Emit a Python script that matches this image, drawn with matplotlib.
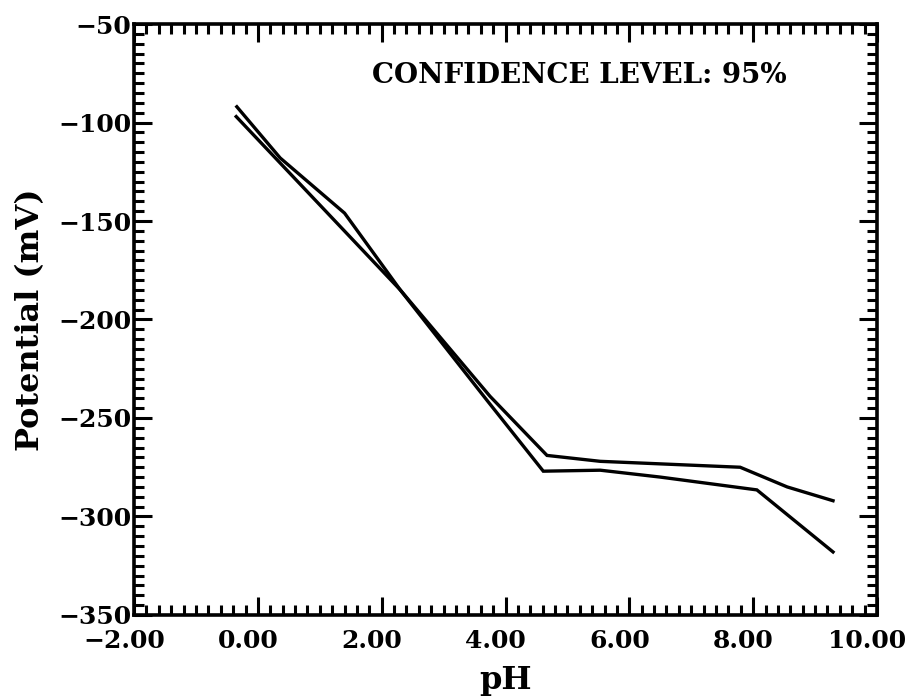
import matplotlib

matplotlib.use("Agg")
import matplotlib.pyplot as plt
from matplotlib.ticker import FuncFormatter, MultipleLocator
from matplotlib.transforms import ScaledTranslation

PH_UPPER = [-0.34, 0.36, 1.40, 2.30, 3.75, 4.67, 5.53, 7.79, 8.55, 9.29]
MV_UPPER = [-92, -118, -146, -185, -239, -269, -272, -275, -285, -292]
PH_LOWER = [-0.35, 2.30, 3.70, 4.61, 5.53, 6.50, 8.06, 9.29]
MV_LOWER = [-97, -185, -241, -277, -276.5, -280, -286.5, -318]

X_TICKS = [-2, 0, 2, 4, 6, 8, 10]
Y_TICKS = [-350, -300, -250, -200, -150, -100, -50]
NOTE = "CONFIDENCE LEVEL: 95%"

FONT = "DejaVu Serif"
FONT_TICK_SIZE = 18
FONT_AXIS_LABEL_SIZE = 23
FONT_NOTE_SIZE = 20
LINE_WIDTH = 2.4


def minus(text: str) -> str:
    return text.replace("-", "\u2212")


def main() -> None:
    plt.rcParams["font.family"] = FONT
    plt.rcParams["font.weight"] = "bold"

    fig = plt.figure(figsize=(9.12, 6.96), dpi=100)
    ax = fig.add_axes([0.147, 0.1164, 0.8146, 0.8491])

    ax.plot(PH_UPPER, MV_UPPER, color="black", linewidth=LINE_WIDTH, solid_joinstyle="miter")
    ax.plot(PH_LOWER, MV_LOWER, color="black", linewidth=LINE_WIDTH, solid_joinstyle="miter")

    ax.set_xlim(-2, 10)
    ax.set_ylim(-350, -50)
    ax.set_xticks(X_TICKS)
    ax.set_yticks(Y_TICKS)
    ax.xaxis.set_minor_locator(MultipleLocator(0.2))
    ax.yaxis.set_minor_locator(MultipleLocator(5))
    ax.xaxis.set_major_formatter(FuncFormatter(lambda v, _: minus(f"{v:.2f}")))
    ax.yaxis.set_major_formatter(FuncFormatter(lambda v, _: minus(f"{v:.0f}")))

    ax.tick_params(which="both", direction="in", top=True, right=True, width=2.2, color="black")
    ax.tick_params(which="major", length=13, labelsize=FONT_TICK_SIZE)
    ax.tick_params(which="minor", length=7)
    ax.tick_params(axis="x", pad=10)
    ax.tick_params(axis="y", pad=2)

    # the old plot put the x labels a little left of their ticks
    shift = ScaledTranslation(-10 / 100, 0, fig.dpi_scale_trans)
    for label in ax.get_xticklabels():
        label.set_fontweight("heavy")
        label.set_transform(label.get_transform() + shift)
    for label in ax.get_yticklabels():
        label.set_fontweight("heavy")

    for spine in ax.spines.values():
        spine.set_linewidth(2.6)

    ax.set_xlabel("pH", fontsize=FONT_AXIS_LABEL_SIZE, fontweight="heavy")
    ax.set_ylabel("Potential (mV)", fontsize=FONT_AXIS_LABEL_SIZE, fontweight="heavy")
    ax.xaxis.set_label_coords(0.5, -0.085)
    ax.yaxis.set_label_coords(-0.118, 0.5)

    ax.text(1.85, -76, NOTE, fontsize=FONT_NOTE_SIZE, fontweight="heavy", ha="left", va="center")

    fig.savefig("out.png", dpi=100)
    plt.close(fig)


if __name__ == "__main__":
    main()
